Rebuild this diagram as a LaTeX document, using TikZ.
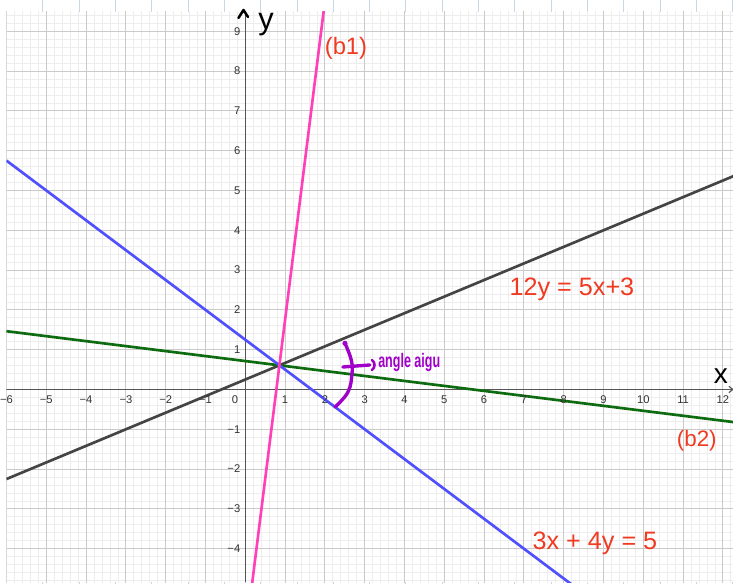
\documentclass[tikz,border=0pt]{standalone}
\usepackage{fontspec}
\setmainfont{Liberation Sans}
\usetikzlibrary{arrows.meta}
\definecolor{minorgrid}{HTML}{EDEDED}
\definecolor{majorgrid}{HTML}{CACACA}
\definecolor{axiscol}{HTML}{555555}
\definecolor{blackline}{HTML}{444444}
\definecolor{blueline}{HTML}{5050FF}
\definecolor{greenline}{HTML}{0F6B0F}
\definecolor{pinkline}{HTML}{FF40B8}
\definecolor{handred}{HTML}{F03A22}
\definecolor{handpurple}{HTML}{A000C8}
\definecolor{stripcol}{HTML}{C9D6E6}
\begin{document}
\begin{tikzpicture}[x=1cm,y=1cm,
  curve/.style={line width=1.9pt},
  ticklabel/.style={font=\fontsize{8}{9}\selectfont, text=black!80, inner sep=0pt},
  hand/.style={text=handred, inner sep=0pt},
  purplestroke/.style={draw=handpurple, line width=2.4pt, line cap=round, line join=round}
]
\useasboundingbox (-6.163,-4.887) rectangle (12.254,9.786);
\fill[white] (-6.163,-4.887) rectangle (12.254,9.786);
% top and bottom ruler strips
\foreach \k in {0,...,19}{
  \draw[stripcol, line width=0.7pt] ({(43+36.3*\k-245.3)/39.8},9.485) -- ++(0,0.31);
  \draw[stripcol, line width=0.7pt] ({(43+36.3*\k-245.3)/39.8},-4.837) -- ++(0,-0.06);
}
\begin{scope}
\clip (-6,-4.837) rectangle (12.254,9.485);
\draw[minorgrid, line width=0.6pt, step=0.2] (-6.2,-5) grid (12.4,9.6);
\draw[majorgrid, line width=0.7pt, step=1] (-6.2,-5) grid (12.4,9.6);
\draw[axiscol, line width=0.9pt] (-6,0) -- (12.254,0);
\draw[axiscol, line width=0.9pt] (0,-4.837) -- (0,9.485);
\draw[axiscol, line width=0.8pt] (12.15,0.08) -- (12.25,0) -- (12.15,-0.08);
% curves
\draw[curve, blackline] (-6,-2.25) -- (12.3,5.375);
\draw[curve, greenline] (-6,1.4643) -- (12.3,-0.8232);
\draw[curve, blueline] (-6,5.75) -- (9,-5.5);
\draw[curve, pinkline] (0.1,-5.45) -- (2.0,9.75);
\end{scope}
% tick labels
\foreach \n in {-6,...,-1}{
  \pgfmathtruncatemacro{\a}{abs(\n)}
  \node[ticklabel] (xlm\a) at (\n,-0.25) {−\a};
}
\foreach \n in {1,...,12}{
  \node[ticklabel] (xlp\n) at (\n,-0.25) {\n};
}
\node[ticklabel] (xlz) at (-0.26,-0.26) {0};
\foreach \n in {1,...,9}{
  \node[ticklabel, anchor=east] (ylp\n) at (-0.12,\n) {\n};
}
\foreach \n in {-4,...,-1}{
  \pgfmathtruncatemacro{\a}{abs(\n)}
  \node[ticklabel, anchor=east] (ylm\a) at (-0.12,\n) {−\a};
}
% axis letters
\draw[black, line width=1.8pt, line cap=round, line join=round] (-0.171,9.334) -- (-0.045,9.535) -- (0.068,9.359);
\node[inner sep=0pt, font=\fontsize{22}{22}\selectfont] (ylab) at (0.52,9.158) {y};
\node[inner sep=0pt, font=\fontsize{20}{20}\selectfont] (xlab) at (11.952,0.339) {x};
% red handwritten labels
\node[hand, font=\fontsize{17}{17}\selectfont] (b1) at (2.53,8.58) {(b1)};
\node[hand, font=\fontsize{18}{18}\selectfont] (eqA) at (8.208,2.525) {12y = 5x+3};
\node[hand, font=\fontsize{16}{16}\selectfont] (b2) at (11.344,-1.294) {(b2)};
\node[hand, font=\fontsize{18}{18}\selectfont] (eqB) at (8.786,-3.857) {3x + 4y = 5};
% purple annotation
\draw[purplestroke] plot[smooth, tension=0.7] coordinates {(2.505,1.16) (2.66,0.75) (2.681,0.40) (2.58,-0.063) (2.254,-0.44)};
\fill[handpurple] (2.505,1.16) circle (0.065);
\draw[purplestroke] (2.452,0.565) -- (3.13,0.616);
\draw[purplestroke, line width=1.8pt] (3.183,0.741) .. controls (3.27,0.68) and (3.27,0.55) .. (3.183,0.49);
\node[inner sep=0pt, anchor=base west, text=handpurple, font=\fontsize{14}{14}\selectfont\bfseries] (aigu) at (3.334,0.56) {\scalebox{0.64}[1]{angle aigu}};
\end{tikzpicture}
\end{document}
